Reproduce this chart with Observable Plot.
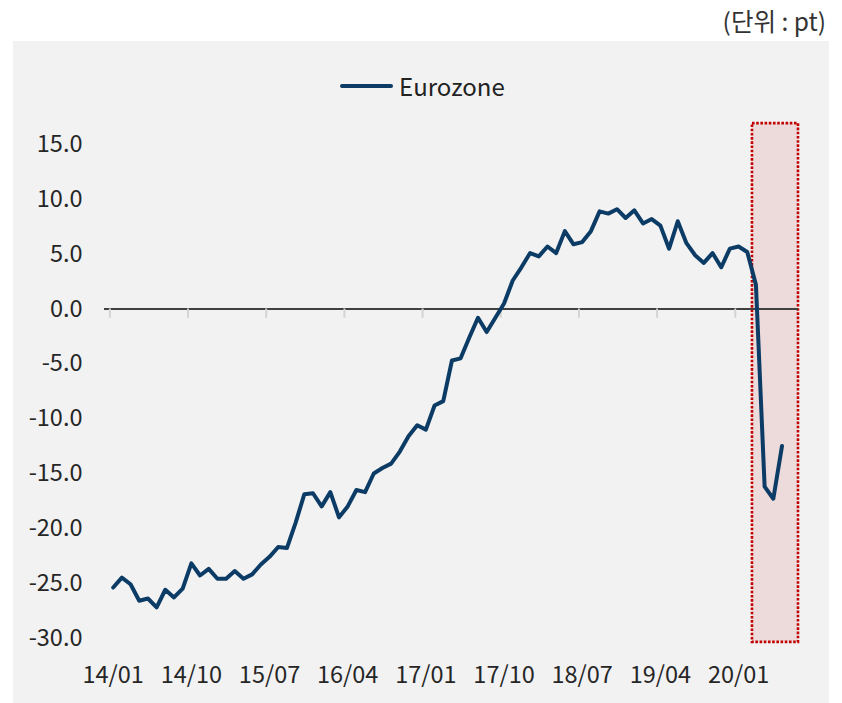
<!DOCTYPE html>
<html>
<head>
<meta charset="utf-8">
<script src="https://cdn.jsdelivr.net/npm/d3@7"></script>
<script src="https://cdn.jsdelivr.net/npm/@observablehq/plot@0.6"></script>
<style>
  html, body { margin: 0; padding: 0; background: #ffffff; }
  body { width: 842px; height: 703px; position: relative; overflow: hidden;
         font-family: "Noto Sans CJK KR", "Noto Sans", sans-serif; color: #262626; }
  #unit { position: absolute; right: 16px; top: 4px; font-size: 24.5px; line-height: 34px; color: #333; }
  #panel { position: absolute; left: 13px; top: 41px; width: 816px; height: 662px; background: #f2f2f2; }
  #legend { position: absolute; left: 327px; top: 28px; height: 34px; display: flex; align-items: center; }
  #legend .sw { width: 53px; height: 4px; background: #0c3c66; border-radius: 2px; margin-right: 6px; }
  #legend .lb { font-size: 24px; color: #222; line-height: 34px; }
  #chart { position: absolute; left: 0; top: 0; }
</style>
</head>
<body>
<div id="unit">(단위 : pt)</div>
<div id="panel">
  <div id="chart"></div>
  <div id="legend"><div class="sw"></div><div class="lb">Eurozone</div></div>
</div>
<script>
// ---- data (monthly, 2014/01 .. 2020/06) ----
const seriesName = "Eurozone";
const startYear = 2014;
const values = [
  -25.4, -24.5, -25.1, -26.6, -26.4, -27.2, -25.6, -26.3, -25.5, -23.2, -24.3, -23.7,
  -24.6, -24.6, -23.9, -24.6, -24.2, -23.3, -22.6, -21.7, -21.8, -19.5, -16.9, -16.8,
  -18.0, -16.7, -19.0, -18.0, -16.5, -16.7, -15.0, -14.5, -14.1, -13.0, -11.6, -10.6,
  -11.0, -8.8, -8.4, -4.7, -4.5, -2.6, -0.8, -2.1, -0.8, 0.5, 2.6, 3.8,
  5.1, 4.8, 5.7, 5.1, 7.1, 5.9, 6.1, 7.1, 8.9, 8.7, 9.1, 8.3,
  9.0, 7.8, 8.2, 7.6, 5.5, 8.0, 6.0, 4.9, 4.2, 5.1, 3.8, 5.5,
  5.7, 5.2, 2.2, -16.2, -17.3, -12.5
];
const xTickLabels = ["14/01", "14/10", "15/07", "16/04", "17/01", "17/10", "18/07", "19/04", "20/01"];
const yTicks = [15, 10, 5, 0, -5, -10, -15, -20, -25, -30];
// highlighted period box (month index / value units)
const highlightX = [73.6, 78.9];
const highlightY = [-30.4, 16.9];

// ---- derived tables ----
const monthLabels = values.map((_, i) => {
  const y = (startYear + Math.floor(i / 12)) % 100;
  const m = (i % 12) + 1;
  return String(y).padStart(2, "0") + "/" + String(m).padStart(2, "0");
});
const data = values.map((v, i) => ({ i, label: monthLabels[i], value: v, series: seriesName }));
const xTickPos = xTickLabels.map(l => monthLabels.indexOf(l));
const box = [{ x1: highlightX[0], x2: highlightX[1], y1: highlightY[0], y2: highlightY[1] }];

const chart = Plot.plot({
  width: 816,
  height: 662,
  marginLeft: 91,
  marginRight: 31,
  marginTop: 103,
  marginBottom: 65.5,
  style: { background: "transparent", fontFamily: "'Noto Sans CJK KR', 'Noto Sans', sans-serif", color: "#262626", overflow: "visible" },
  x: { domain: [-1.0, 78.9] },
  y: { domain: [-30, 15] },
  marks: [
    Plot.rect(box, { x1: "x1", x2: "x2", y1: "y1", y2: "y2", fill: "#eddada",
      stroke: "#c00000", strokeWidth: 2.6, strokeDasharray: "2.6,1.6" }),
    Plot.ruleY([0], { stroke: "#404040", strokeWidth: 2 }),
    Plot.ruleX(xTickPos, { x: d => d, y1: 0, y2: -0.85, stroke: "#d4d4d4", strokeWidth: 2, dx: -3.3 }),
    Plot.axisY({ ticks: yTicks, tickFormat: d => d.toFixed(1), tickSize: 0, tickPadding: 22, fontSize: 23.5 }),
    Plot.axisX({ ticks: xTickPos, tickFormat: i => monthLabels[i], tickSize: 0, tickPadding: 28.5, fontSize: 23.5 }),
    Plot.line(data, { x: "i", y: "value", stroke: "#0c3c66", strokeWidth: 4, strokeLinejoin: "round", strokeLinecap: "round" })
  ]
});
document.getElementById("chart").appendChild(chart);
</script>
</body>
</html>
